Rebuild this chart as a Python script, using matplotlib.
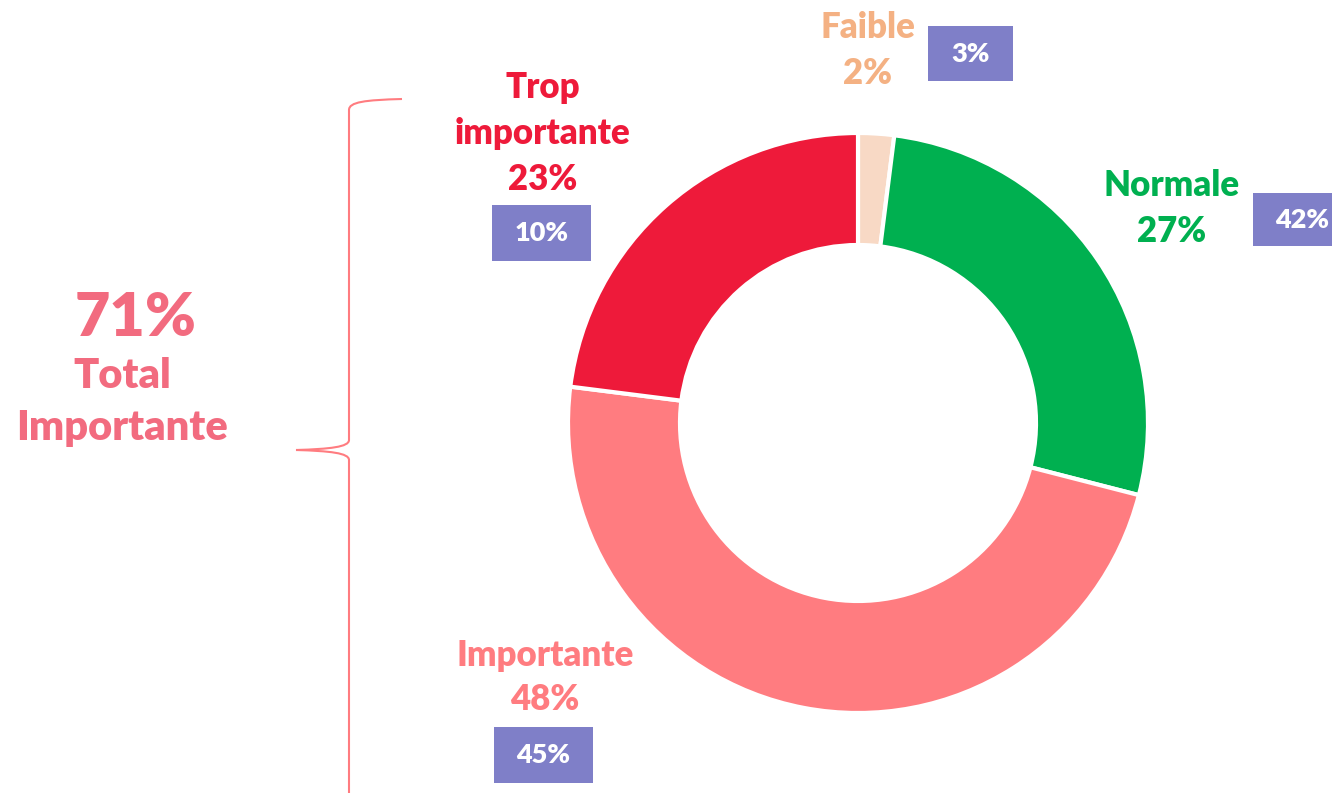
import matplotlib
matplotlib.use("Agg")
import matplotlib.pyplot as plt
from matplotlib.patches import Rectangle, PathPatch
from matplotlib.path import Path

# ---- data ----
categories = ["Faible", "Normale", "Importante", "Trop importante"]
values = [2, 27, 48, 23]
previous = ["3%", "42%", "45%", "10%"]
wedge_colors = ["#F8D9C5", "#00B050", "#FF7C80", "#EE1A3A"]
label_colors = ["#F4B183", "#00B050", "#FF7C80", "#EE1A3A"]
total_value = "71%"
total_label = ["Total", "Importante"]
box_color = "#7F7FC8"
brace_color = "#FF7C80"
total_color = "#F26B7F"

W, H = 1332, 793
fig = plt.figure(figsize=(W / 100, H / 100), dpi=100)
ax = fig.add_axes([0, 0, 1, 1])

FONT = "Lato"
WEIGHT = "heavy"

# donut (y axis inverted: startangle -90 = visual top, counterclock in data = clockwise on screen)
ax.pie(values, colors=wedge_colors, startangle=-90, counterclock=True,
       center=(858, 423), radius=290, frame=True,
       wedgeprops=dict(width=112, edgecolor="white", linewidth=3))
ax.set_xlim(0, W)
ax.set_ylim(H, 0)
ax.set_aspect("equal")
ax.axis("off")

label_pos = {
    "Faible": (868, [28, 73]),
    "Normale": (1172, [186, 231]),
    "Importante": (545, [655, 700]),
    "Trop importante": (543, [88, 133, 179]),
}
box_pos = {
    "Faible": (928, 26, 85, 55),
    "Normale": (1253, 193, 85, 53),
    "Importante": (494, 727, 99, 56),
    "Trop importante": (492, 205, 99, 56),
}

for cat, val, prev, col in zip(categories, values, previous, label_colors):
    x, ys = label_pos[cat]
    words = cat.split(" ") if len(ys) == 3 else [cat]
    lines = words + [f"{val}%"]
    for line, y in zip(lines, ys):
        ax.text(x, y, line, color=col, fontsize=25, fontweight=WEIGHT,
                family=FONT, ha="center", va="center")
    bx, by, bw, bh = box_pos[cat]
    ax.add_patch(Rectangle((bx, by), bw, bh, facecolor=box_color,
                           edgecolor="none", clip_on=False))
    tx = bx + bw / 2 if cat != "Normale" else 1302
    ax.text(tx, by + bh / 2, prev, color="white", fontsize=19.5,
            fontweight=WEIGHT, family=FONT, ha="center", va="center")

# total
ax.text(136, 318, total_value, color=total_color, fontsize=44,
        fontweight=WEIGHT, family=FONT, ha="center", va="center")
ax.text(122, 376, total_label[0], color=total_color, fontsize=30,
        fontweight=WEIGHT, family=FONT, ha="center", va="center")
ax.text(122, 428, total_label[1], color=total_color, fontsize=30,
        fontweight=WEIGHT, family=FONT, ha="center", va="center")

# brace
verts = [
    (402, 99), (365, 100), (349, 102), (349, 110),
    (349, 440),
    (349, 447), (330, 449), (296, 450),
    (330, 451), (349, 453), (349, 460),
    (349, 793),
]
codes = [Path.MOVETO, Path.CURVE4, Path.CURVE4, Path.CURVE4,
         Path.LINETO,
         Path.CURVE4, Path.CURVE4, Path.CURVE4,
         Path.CURVE4, Path.CURVE4, Path.CURVE4,
         Path.LINETO]
ax.add_patch(PathPatch(Path(verts, codes), facecolor="none",
                       edgecolor=brace_color, linewidth=1.5, clip_on=False))

fig.savefig("out.png", dpi=100, facecolor="white")
